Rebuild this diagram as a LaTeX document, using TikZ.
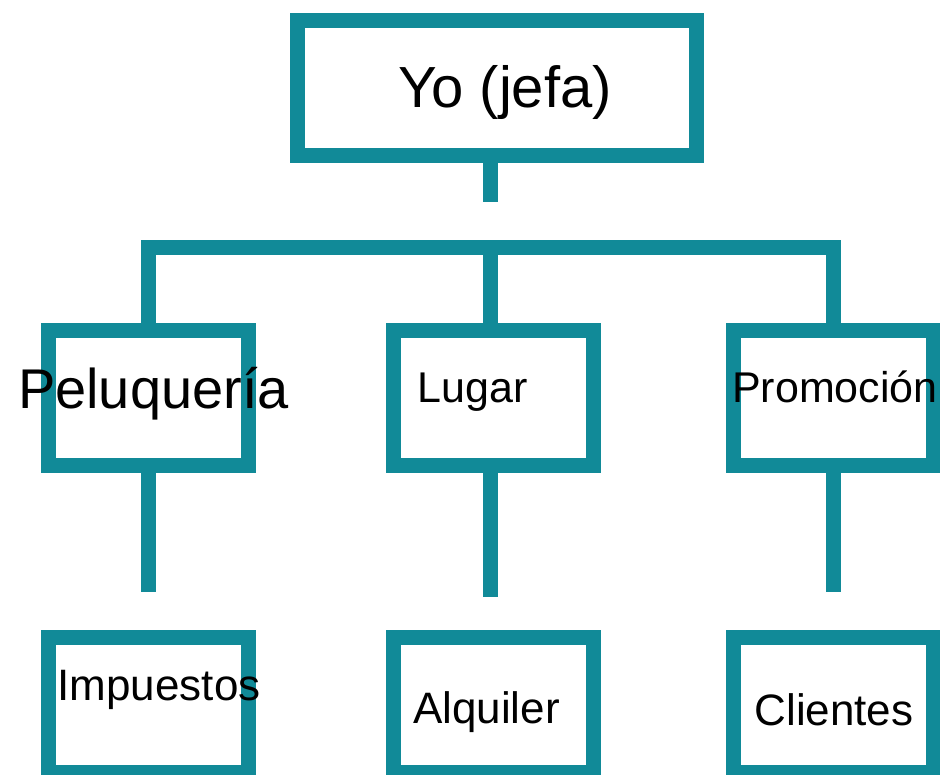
\documentclass[tikz,border=0pt]{standalone}
\usepackage{fontspec}
\setmainfont{Liberation Sans}
\usepackage{tikz}
\usetikzlibrary{calc}
\usepackage{xcolor}
\definecolor{teal}{RGB}{17,138,152}

\begin{document}
\begin{tikzpicture}[x=1pt, y=-1pt,
    box/.style={draw=teal, line width=15pt, fill=white, rectangle, inner sep=0pt, outer sep=0pt,
                minimum width=200pt, minimum height=135pt},
    link/.style={draw=teal, line width=15pt},
    lbl/.style={anchor=base, inner sep=0pt}]
    \useasboundingbox[fill=white] (0,0) rectangle (940,774);
    % boxes
    \node[box, minimum width=399pt] (jefa) at (497,88) {};
    \node[box] (pel) at (148.5,398) {};
    \node[box] (lug) at (493.5,398) {};
    \node[box] (pro) at (833.5,398) {};
    \node[box] (imp) at (148.5,705) {};
    \node[box] (alq) at (493.5,705) {};
    \node[box] (cli) at (833.5,705) {};
    % connectors
    \coordinate (bar) at (0,247.5);
    \coordinate (jefaend) at (490.5,202);
    \draw[link] (jefa.south -| jefaend) -- (jefaend);
    \draw[link] (pel.north) |- (bar -| pro.north) -- (pro.north);
    \draw[link] (lug.north -| jefaend) -- (bar -| jefaend);
    \coordinate (pelend) at (148.5,592);
    \coordinate (lugend) at (490.5,597);
    \coordinate (proend) at (833.5,592);
    \draw[link] (pel.south) -- (pelend);
    \draw[link] (lug.south -| lugend) -- (lugend);
    \draw[link] (pro.south) -- (proend);
    % texts
    \node[lbl, font=\fontsize{58}{58}\selectfont] (tjefa) at (505,107) {Yo (jefa)};
    \node[lbl, font=\fontsize{56}{56}\selectfont] (tpel) at (153.5,408) {Peluquería};
    \node[lbl, font=\fontsize{43}{43}\selectfont] (tlug) at (472.5,402) {Lugar};
    \node[lbl, font=\fontsize{43}{43}\selectfont] (tpro) at (835,402) {Promoción};
    \node[lbl, font=\fontsize{44}{44}\selectfont] (timp) at (159,700) {Impuestos};
    \node[lbl, font=\fontsize{44}{44}\selectfont] (talq) at (486.5,723) {Alquiler};
    \node[lbl, font=\fontsize{44}{44}\selectfont] (tcli) at (834,725) {Clientes};
\end{tikzpicture}
\end{document}
